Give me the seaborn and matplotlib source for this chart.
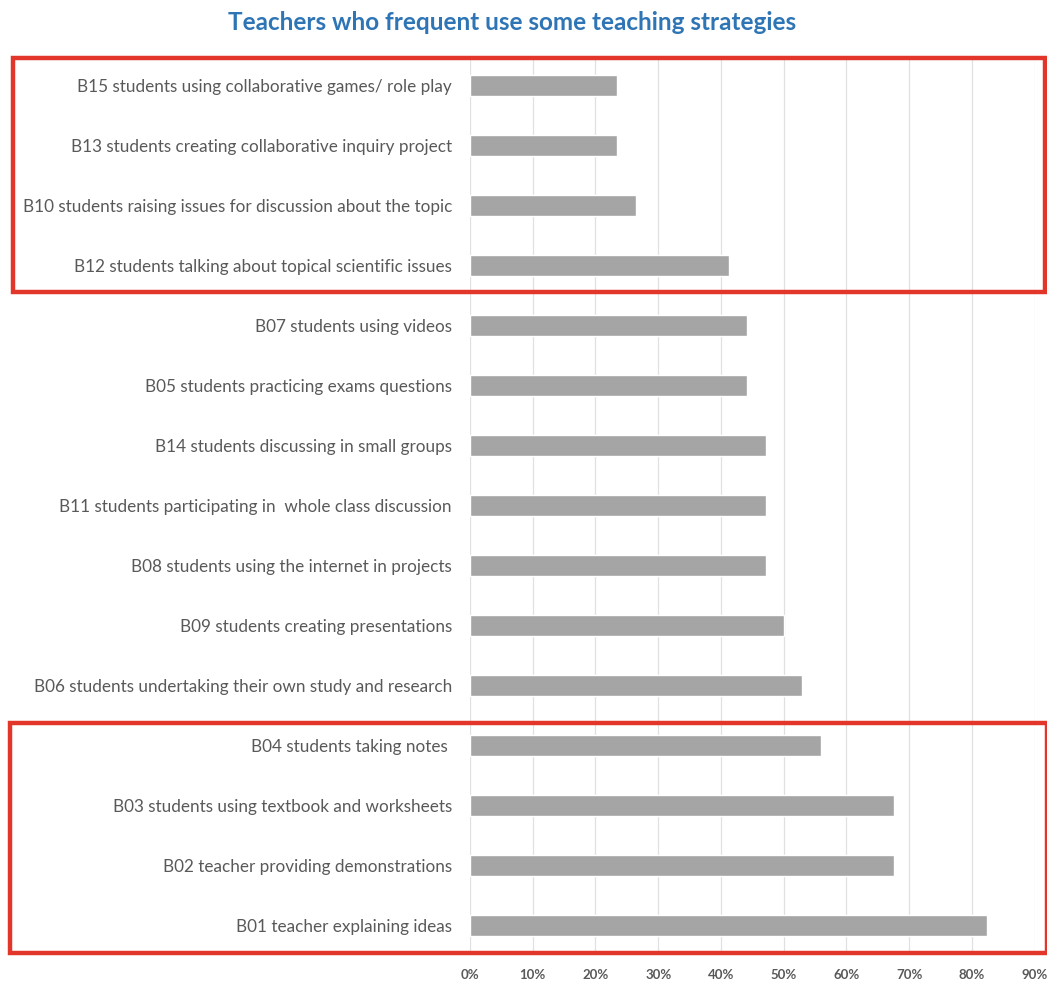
import matplotlib
matplotlib.use("Agg")
import matplotlib.pyplot as plt
from matplotlib.patches import Rectangle
from matplotlib.ticker import PercentFormatter
import pandas as pd
import seaborn as sns

# strategies, top to bottom as in the chart
strategies = [
    "B15 students using collaborative games/ role play",
    "B13 students creating collaborative inquiry project",
    "B10 students raising issues for discussion about the topic",
    "B12 students talking about topical scientific issues",
    "B07 students using videos",
    "B05 students practicing exams questions",
    "B14 students discussing in small groups",
    "B11 students participating in  whole class discussion",
    "B08 students using the internet in projects",
    "B09 students creating presentations",
    "B06 students undertaking their own study and research",
    "B04 students taking notes ",
    "B03 students using textbook and worksheets",
    "B02 teacher providing demonstrations",
    "B01 teacher explaining ideas",
]
# share of teachers (fraction)
share = [0.235, 0.235, 0.265, 0.412, 0.441, 0.441, 0.471, 0.471, 0.471,
         0.500, 0.529, 0.559, 0.676, 0.676, 0.824]
x_ticks = [0, 0.1, 0.2, 0.3, 0.4, 0.5, 0.6, 0.7, 0.8, 0.9]

df = pd.DataFrame({"strategy": strategies, "share": share})

sns.set_theme(style="white")
plt.rcParams["font.family"] = ["Lato", "DejaVu Sans"]

W, H = 1047, 981
fig = plt.figure(figsize=(W / 100, H / 100), dpi=100)
ax = fig.add_axes([470 / W, 1 - 955 / H, (1034.7 - 470) / W, 899 / H])

sns.barplot(data=df, x="share", y="strategy", orient="h", color="#a5a5a5",
            saturation=1, width=0.35, ax=ax, zorder=2)

ax.set_xlim(0, 0.9)
ax.set_ylim(14.5, -0.5)
ax.set_xticks(x_ticks)
ax.xaxis.set_major_formatter(PercentFormatter(1.0, decimals=0))
ax.grid(axis="x", color="#e0e0e0", linewidth=0.9, zorder=0)
ax.set_axisbelow(True)
for s in ax.spines.values():
    s.set_visible(False)
ax.set_xlabel("")
ax.set_ylabel("")
ax.tick_params(axis="y", length=0, pad=13, labelsize=12.3, labelcolor="#595959")
ax.tick_params(axis="x", length=0, pad=10, labelsize=9.5, labelcolor="#595959")
for lab in ax.get_xticklabels():
    lab.set_fontweight("bold")

fig.text(512 / W, 1 - 22 / H, "Teachers who frequent use some teaching strategies",
         ha="center", va="center", fontsize=17.5, fontweight="bold", color="#2e75b6")

# red highlight boxes
red = "#e3362b"
fig.patches.append(Rectangle((13 / W, 1 - 292 / H), (1045 - 13) / W, (292 - 58) / H,
                             transform=fig.transFigure, fill=False, edgecolor=red,
                             linewidth=3.2, zorder=5))
fig.patches.append(Rectangle((10 / W, 1 - 953 / H), (1047 - 10) / W, (953 - 723) / H,
                             transform=fig.transFigure, fill=False, edgecolor=red,
                             linewidth=3.2, zorder=5))

fig.savefig("out.png", dpi=100)
